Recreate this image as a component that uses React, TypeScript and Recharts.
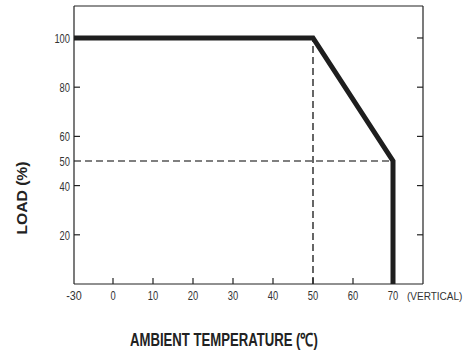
import { LineChart, Line, XAxis, YAxis, ReferenceLine } from 'recharts';

// derating curve: load (%) against ambient temperature (°C)
const TEMPS = [-30, 50, 70, 70];
const LOADS = [100, 100, 50, 0];

const X_TICKS = [-30, 0, 10, 20, 30, 40, 50, 60, 70];
const Y_TICKS = [20, 40, 50, 60, 80, 100];
const Y_INNER_TICKS = [20, 40, 60, 80, 100];
const X_INNER_TICKS = [0, 10, 20, 30, 40, 50, 60, 70];

const KNEE_TEMP = 50;
const HALF_LOAD = 50;
const MAX_TEMP = 70;

// the x axis is broken between -30 and 0: -30 sits just under one step left of 0
const BREAK_POS = -9.75;
const toAxis = (t: number) => (t < 0 ? BREAK_POS : t);

const X_DOMAIN: [number, number] = [BREAK_POS, 77.5];
const Y_DOMAIN: [number, number] = [0, 113];

const chartData = TEMPS.map((t, i) => ({ x: toAxis(t), load: LOADS[i] }));

const NARROW = "'Liberation Sans Narrow', 'Arial Narrow', 'Liberation Sans', Arial, sans-serif";
const INK = '#1e1e1e';
const AXIS = '#222';
const TICK_LEN = 6;

const labelWidth = (s: string) => s.length * 5.2;

const EmptyTick = () => <g />;

// bottom labels, plus the short tick marks that point up into the plot
const XTick = ({ x, y, payload }: any) => {
  const label = payload.value === BREAK_POS ? '-30' : String(payload.value);
  return (
    <g>
      {X_INNER_TICKS.includes(payload.value) && (
        <line x1={x} x2={x} y1={y} y2={y - TICK_LEN} stroke={AXIS} strokeWidth={1.2} />
      )}
      <text
        x={x}
        y={y + 16}
        textAnchor="middle"
        fontSize={13}
        fill="#333"
        fontFamily={NARROW}
        textLength={labelWidth(label)}
        lengthAdjust="spacingAndGlyphs"
      >
        {label}
      </text>
      {payload.value === MAX_TEMP && (
        <text x={x + 14} y={y + 16} textAnchor="start" fontSize={10} fill="#333" fontFamily={NARROW}>
          (VERTICAL)
        </text>
      )}
    </g>
  );
};

const YTick = ({ x, y, payload }: any) => {
  const label = String(payload.value);
  return (
    <g>
      {Y_INNER_TICKS.includes(payload.value) && (
        <line x1={x} x2={x + TICK_LEN} y1={y} y2={y} stroke={AXIS} strokeWidth={1.2} />
      )}
      <text
        x={x - 4}
        y={y + 5}
        textAnchor="end"
        fontSize={13}
        fill="#333"
        fontFamily={NARROW}
        textLength={labelWidth(label)}
        lengthAdjust="spacingAndGlyphs"
      >
        {label}
      </text>
    </g>
  );
};

const XTitle = () => (
  <text
    x={130}
    y={346}
    fontSize={18}
    fontWeight="bold"
    fill="#222"
    fontFamily={NARROW}
    textLength={188}
    lengthAdjust="spacingAndGlyphs"
  >
    AMBIENT TEMPERATURE (℃)
  </text>
);

const YTitle = () => (
  <text
    x={27}
    y={198}
    transform="rotate(-90, 27, 198)"
    textAnchor="middle"
    fontSize={15}
    fontWeight="bold"
    fill="#222"
    fontFamily={NARROW}
    textLength={73}
    lengthAdjust="spacingAndGlyphs"
  >
    LOAD (%)
  </text>
);

export default function App() {
  return (
    <div style={{ position: 'absolute', left: 0, top: 0, background: '#fff' }}>
      <LineChart
        width={466}
        height={354}
        data={chartData}
        margin={{ top: 6, right: 43, left: 34, bottom: 40 }}
      >
        <XAxis
          dataKey="x"
          type="number"
          domain={X_DOMAIN}
          allowDataOverflow
          ticks={X_TICKS.map(toAxis)}
          interval={0}
          height={30}
          tickSize={0}
          tickMargin={0}
          tickLine={false}
          axisLine={{ stroke: AXIS, strokeWidth: 1.2 }}
          tick={<XTick />}
          label={<XTitle />}
        />
        <XAxis
          xAxisId="top"
          orientation="top"
          type="number"
          domain={X_DOMAIN}
          allowDataOverflow
          mirror
          tick={false}
          tickLine={false}
          axisLine={{ stroke: AXIS, strokeWidth: 1.2 }}
        />
        <YAxis
          type="number"
          domain={Y_DOMAIN}
          allowDataOverflow
          ticks={Y_TICKS}
          interval={0}
          width={40}
          tickSize={0}
          tickMargin={0}
          tickLine={false}
          axisLine={{ stroke: AXIS, strokeWidth: 1.2 }}
          tick={<YTick />}
          label={<YTitle />}
        />
        <YAxis
          yAxisId="right"
          orientation="right"
          type="number"
          domain={Y_DOMAIN}
          allowDataOverflow
          ticks={Y_INNER_TICKS}
          interval={0}
          mirror
          tickSize={TICK_LEN}
          tick={<EmptyTick />}
          tickLine={{ stroke: AXIS, strokeWidth: 1.2 }}
          axisLine={{ stroke: AXIS, strokeWidth: 1.2 }}
        />
        <ReferenceLine
          segment={[
            { x: KNEE_TEMP, y: 0 },
            { x: KNEE_TEMP, y: 100 },
          ]}
          stroke="#000"
          strokeWidth={1.2}
          strokeDasharray="7 4"
        />
        <ReferenceLine
          segment={[
            { x: BREAK_POS, y: HALF_LOAD },
            { x: MAX_TEMP, y: HALF_LOAD },
          ]}
          stroke="#000"
          strokeWidth={1.2}
          strokeDasharray="7 4"
        />
        <Line
          dataKey="load"
          type="linear"
          stroke={INK}
          strokeWidth={5}
          strokeLinejoin="miter"
          dot={false}
          activeDot={false}
          isAnimationActive={false}
        />
      </LineChart>
    </div>
  );
}
